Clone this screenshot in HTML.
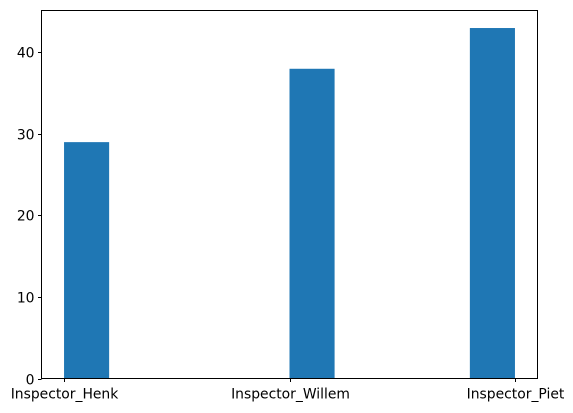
<!DOCTYPE html>
<html><head><meta charset="utf-8"><style>
body{margin:0;background:#fff;}
svg{display:block;font-family:"DejaVu Sans","Liberation Sans",sans-serif;}
</style></head><body>
<svg id="chart" width="573" height="413" viewBox="0 0 573 413" xmlns="http://www.w3.org/2000/svg"></svg>
<script>
const categories = ["Inspector_Henk", "Inspector_Willem", "Inspector_Piet"];
const counts = [29, 38, 43];
const yTicks = [0, 10, 20, 30, 40];
const nBins = 10;

const L = 41.5, R = 537.5, T = 10.5, B = 378.5;
const xmin = -0.1, xmax = 2.1;
const ymax = Math.max(...counts) * 1.05;
const sx = v => L + (v - xmin) / (xmax - xmin) * (R - L);
const sy = v => B - v / ymax * (B - T);
const svg = document.getElementById('chart');
const NS = 'http://www.w3.org/2000/svg';
function mk(tag, attrs) {
  const e = document.createElementNS(NS, tag);
  for (const k in attrs) e.setAttribute(k, attrs[k]);
  svg.appendChild(e);
  return e;
}
const hi = categories.length - 1;
const bw = hi / nBins;
counts.forEach((c, i) => {
  let b = Math.min(Math.floor(i / bw + 1e-9), nBins - 1);
  const x0 = sx(b * bw), x1 = sx((b + 1) * bw);
  const r = mk('rect', {x: x0, y: sy(c), width: x1 - x0, height: sy(0) - sy(c), fill: '#1f77b4'});
  
  
});
const frame = mk('rect', {x: L, y: T, width: R - L, height: B - T, fill: 'none', stroke: '#000', 'stroke-width': 1});


yTicks.forEach(v => {
  const y = Math.round(sy(v)) + 0.5;
  const t = mk('line', {x1: L - 3.5, x2: L, y1: y, y2: y, stroke: '#000', 'stroke-width': 1});
  
  
  const l = mk('text', {x: L - 7, y: y + 5, 'text-anchor': 'end', 'font-size': 13.9, fill: '#000'});
  l.textContent = v;
  
  
});
categories.forEach((c, i) => {
  const x = Math.round(sx(i)) + 0.5;
  const t = mk('line', {x1: x, x2: x, y1: B, y2: B + 3.5, stroke: '#000', 'stroke-width': 1});
  
  
  const l = mk('text', {x: x, y: B + 20, 'text-anchor': 'middle', 'font-size': 13.9, fill: '#000'});
  l.textContent = c;
  
  
});
</script>
</body></html>
